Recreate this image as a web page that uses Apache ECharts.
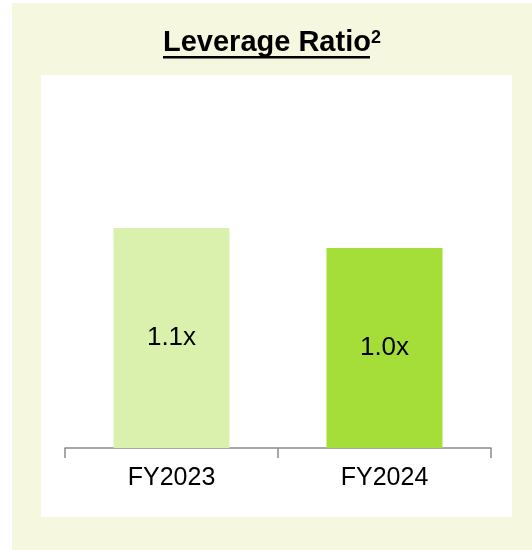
<!DOCTYPE html>
<html>
<head>
<meta charset="utf-8">
<script src="https://cdn.jsdelivr.net/npm/echarts@6/dist/echarts.min.js"></script>
<style>
html,body{margin:0;padding:0;background:#ffffff;}
#chart{width:532px;height:550px;}
</style>
</head>
<body>
<div id="chart"></div>
<script>
var categories = ['FY2023', 'FY2024'];
var leverageValues = [1.1, 1.0];
var barColors = ['#DAF1AE', '#A5DD39'];
var titleMain = 'Leverage Ratio';
var titleSup = '2';

var chart = echarts.init(document.getElementById('chart'));
var option = {
  animation: false,
  backgroundColor: '#ffffff',
  graphic: [
    { type: 'rect', z: -10, shape: { x: 12, y: 3, width: 520, height: 547 }, style: { fill: '#F5F8DF' } },
    { type: 'rect', z: -9, shape: { x: 41, y: 75, width: 471, height: 442 }, style: { fill: '#ffffff' } },
    { type: 'text', left: 163, top: 28, style: {
        text: '{a|' + titleMain + '}{b|' + titleSup + '}',
        rich: {
          a: { fontFamily: 'Liberation Sans, Arial, sans-serif', fontWeight: 'bold', fontSize: 29, fill: '#000000', lineHeight: 32 },
          b: { fontFamily: 'Liberation Sans, Arial, sans-serif', fontWeight: 'bold', fontSize: 18, fill: '#000000', verticalAlign: 'top', padding: [3, 0, 0, 0] }
        }
      } },
    { type: 'rect', shape: { x: 163, y: 56, width: 207, height: 2.5 }, style: { fill: '#000000' } }
  ],
  grid: { left: 65, right: 41, top: 148, bottom: 102 },
  xAxis: {
    type: 'category',
    data: categories,
    axisLine: { lineStyle: { color: '#8C8C8C', width: 1.5 } },
    axisTick: { show: true, length: 10, lineStyle: { color: '#8C8C8C', width: 1.5 } },
    axisLabel: { fontFamily: 'Liberation Sans, Arial, sans-serif', fontSize: 25, color: '#000000', margin: 18 }
  },
  yAxis: { type: 'value', min: 0, max: 1.5, show: false, splitLine: { show: false } },
  series: [{
    type: 'bar',
    barWidth: 116,
    data: leverageValues.map(function (v, i) { return { value: v, itemStyle: { color: barColors[i] } }; }),
    label: {
      show: true,
      position: 'inside',
      fontFamily: 'Liberation Sans, Arial, sans-serif',
      fontSize: 26,
      color: '#000000',
      formatter: function (p) { return p.value.toFixed(1) + 'x'; }
    }
  }]
};
chart.setOption(option);
</script>
</body>
</html>
